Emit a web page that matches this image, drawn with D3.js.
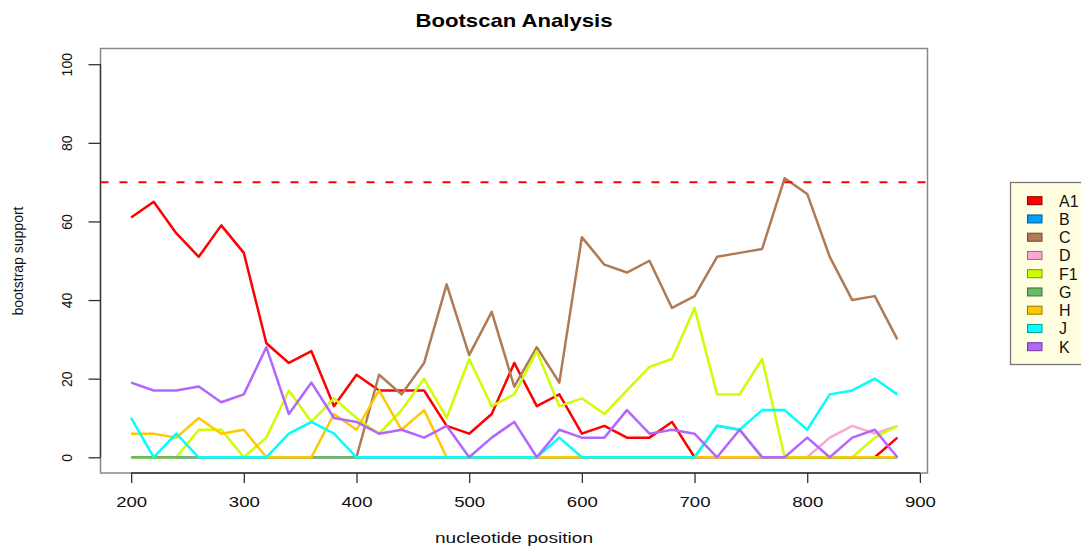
<!DOCTYPE html>
<html>
<head>
<meta charset="utf-8">
<script src="https://cdn.jsdelivr.net/npm/d3@7"></script>
<style>
body{margin:0;background:#fff;}
text{font-family:"Liberation Sans",Arial,sans-serif;}
</style>
</head>
<body>
<div id="chart"></div>
<script>
// nucleotide positions (window midpoints)
var positions = [200,220,240,260,280,300,320,340,360,380,400,420,440,460,480,500,520,540,560,580,600,620,640,660,680,700,720,740,760,780,800,820,840,860,880];

// bootstrap support per reference subtype
var A1 = [61,65,57,51,59,52,29,24,27,13,21,17,17,17,8,6,11,24,13,16,6,8,5,5,9,0,0,0,0,0,0,0,0,0,5];
var B  = [0,0,0,0,0,0,0,0,0,0,0,0,0,0,0,0,0,0,0,0,0,0,0,0,0,0,0,0,0,0,0,0,0,0,0];
var C  = [0,0,0,0,0,0,0,0,0,0,0,21,16,24,44,26,37,18,28,19,56,49,47,50,38,41,51,52,53,71,67,51,40,41,30];
var D  = [0,0,0,0,0,0,0,0,0,0,0,0,0,0,0,0,0,0,0,0,0,0,0,0,0,0,0,0,0,0,0,5,8,6,8];
var F1 = [0,0,0,7,7,0,5,17,9,15,10,6,12,20,10,25,13,16,27,13,15,11,17,23,25,38,16,16,25,0,0,0,0,5,8];
var G  = [0,0,0,0,0,0,0,0,0,0,0,0,0,0,0,0,0,0,0,0,0,0,0,0,0,0,8,7,0,0,0,0,0,0,0];
var H  = [6,6,5,10,6,7,0,0,0,11,7,17,7,12,0,0,0,0,0,0,0,0,0,0,0,0,0,0,0,0,0,0,0,0,0];
var J  = [10,0,6,0,0,0,0,6,9,6,0,0,0,0,0,0,0,0,0,5,0,0,0,0,0,0,8,7,12,12,7,16,17,20,16];
var K  = [19,17,17,18,14,16,28,11,19,10,9,6,7,5,8,0,5,9,0,7,5,5,12,6,7,6,0,7,0,0,5,0,5,7,0];

var names  = ["A1","B","C","D","F1","G","H","J","K"];
var values = [A1,B,C,D,F1,G,H,J,K];
var colors = ["#ff0000","#00a0ff","#b07a55","#f7a9d2","#ccff00","#66bb66","#ffc800","#00ffff","#b266ff"];
var borders= ["#8a0000","#005a90","#6a4830","#9a6a80","#7a9a00","#3d703d","#9a7800","#009a9a","#6a3d99"];

var xTicks = [200,300,400,500,600,700,800,900];
var yTicks = [0,20,40,60,80,100];
var cutoff = 70;

var W=1081,H_=546;
var svg=d3.select("#chart").append("svg").attr("width",W).attr("height",H_);

// R style: 4% padding around data range
var x=d3.scaleLinear().domain([172.8,907.2]).range([100.5,928]);
var y=d3.scaleLinear().domain([-4,104]).range([473,48.5]);

// lines
var line=d3.line().x(function(d,i){return x(positions[i]);}).y(function(d){return y(d);});
svg.append("g").selectAll("path").data(values).enter().append("path")
  .attr("d",line)
  .attr("fill","none")
  .attr("stroke",function(d,i){return colors[i];})
  .attr("stroke-width",2.5)
  .attr("stroke-linejoin","round");

// cutoff line
svg.append("line")
  .attr("x1",x(172.8)).attr("x2",x(907.2))
  .attr("y1",y(cutoff)).attr("y2",y(cutoff))
  .attr("stroke","#ff0000").attr("stroke-width",2)
  .attr("stroke-dasharray","8,11");

// box
svg.append("rect").attr("x",100.5).attr("y",48.5).attr("width",927.5-100.5).attr("height",473-48.5)
  .attr("fill","none").attr("stroke","#888").attr("stroke-width",1.5);

// x axis
var xAxis=svg.append("g").attr("transform","translate(0,473)")
  .call(d3.axisBottom(x).tickValues(xTicks).tickSize(10).tickPadding(14));
xAxis.select(".domain").attr("d","M"+x(200)+",0H"+x(900)).attr("stroke","#333").attr("stroke-width",1.3);
xAxis.selectAll(".tick line").attr("stroke","#333").attr("stroke-width",1.3);
xAxis.selectAll("text").attr("font-size",14).attr("fill","#111")
  .attr("textLength",31).attr("lengthAdjust","spacingAndGlyphs");

// y axis
var yAxis=svg.append("g").attr("transform","translate(100.5,0)")
  .call(d3.axisLeft(y).tickValues(yTicks).tickSize(12));
yAxis.select(".domain").attr("d","M0,"+y(0)+"V"+y(100)).attr("stroke","#333").attr("stroke-width",1.3);
yAxis.selectAll(".tick line").attr("stroke","#333").attr("stroke-width",1.3);
yAxis.selectAll("text").attr("font-size",14).attr("fill","#111")
  .attr("x",0).attr("dy",0)
  .attr("text-anchor","middle")
  .attr("transform","translate(-34,0) rotate(-90)")
  .attr("y",5);

// titles
svg.append("text").attr("x",514).attr("y",27).attr("text-anchor","middle")
  .attr("font-size",19).attr("font-weight","bold").attr("fill","#000")
  .attr("textLength",197).attr("lengthAdjust","spacingAndGlyphs")
  .text("Bootscan Analysis");
svg.append("text").attr("x",514).attr("y",543).attr("text-anchor","middle")
  .attr("font-size",14).attr("fill","#111")
  .attr("textLength",158).attr("lengthAdjust","spacingAndGlyphs")
  .text("nucleotide position");
svg.append("text").attr("transform","translate(23,261) rotate(-90)").attr("text-anchor","middle")
  .attr("font-size",14).attr("fill","#111")
  .text("bootstrap support");

// legend
var lg=svg.append("g");
lg.append("rect").attr("x",1010.5).attr("y",182.5).attr("width",90).attr("height",182)
  .attr("fill","#fffee0").attr("stroke","#777").attr("stroke-width",1.3);
var rows=lg.selectAll("g.row").data(names).enter().append("g").attr("class","row")
  .attr("transform",function(d,i){return "translate(0,"+(200.7+i*18.25)+")";});
rows.append("rect").attr("x",1027.5).attr("y",-4).attr("width",14.5).attr("height",8)
  .attr("fill",function(d,i){return colors[i];})
  .attr("stroke",function(d,i){return borders[i];}).attr("stroke-width",1);
rows.append("text").attr("x",1059).attr("y",6).attr("font-size",16).attr("fill","#111")
  .text(function(d){return d;});
</script>
</body>
</html>
